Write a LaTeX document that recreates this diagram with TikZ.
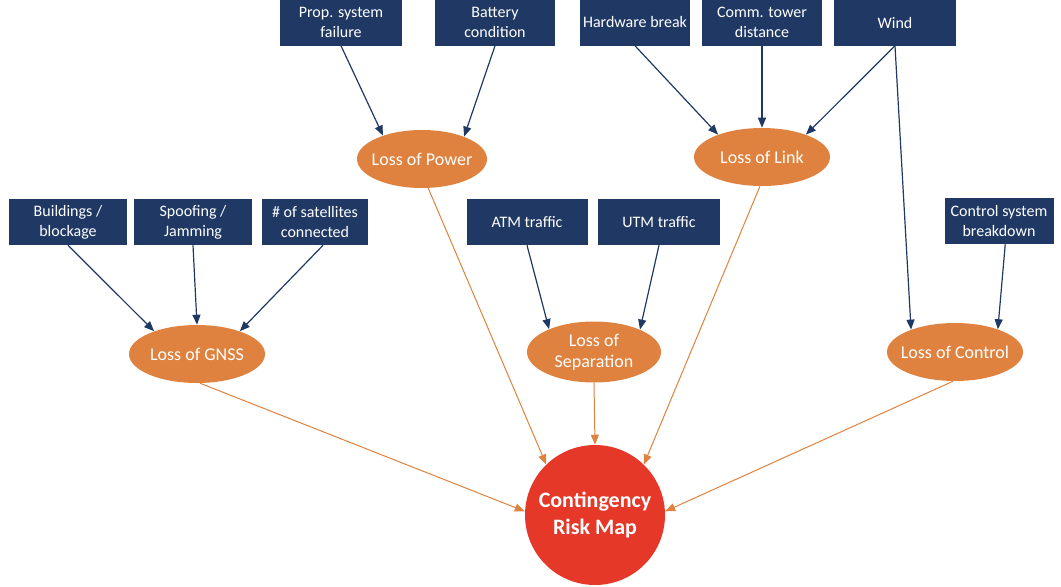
\documentclass[tikz,border=0pt]{standalone}
\usepackage{fontspec}
\setmainfont{Carlito}
\usetikzlibrary{arrows.meta,shapes.geometric}
\definecolor{boxblue}{RGB}{31,56,100}
\definecolor{riskorange}{RGB}{223,130,64}
\definecolor{hubred}{RGB}{229,56,40}
\tikzset{
  cause/.style={rectangle, fill=boxblue, text=white, minimum height=34.5pt, inner sep=1pt,
                align=center, font=\fontsize{12}{15}\selectfont},
  risk/.style={ellipse, fill=riskorange, text=white, minimum width=102pt, minimum height=43.5pt,
               inner xsep=-5pt, inner ysep=0pt, align=center, font=\fontsize{13.5}{16}\selectfont},
  hub/.style={circle, fill=hubred, text=white, minimum size=105pt, inner sep=0pt, align=center,
              font=\fontsize{16.5}{20}\selectfont\bfseries},
  bar/.style={-{Triangle[length=7.5pt,width=6pt]}, draw=boxblue, line width=0.9pt},
  oar/.style={-{Triangle[length=7.5pt,width=6pt]}, draw=riskorange, line width=0.75pt},
}
\begin{document}
\begin{tikzpicture}[x=0.75pt,y=-0.75pt]
\useasboundingbox (0,0) rectangle (1061,586);
% causes, top row
\node[cause, minimum width=91.5pt] (prop) at (341,22.5) {Prop. system\\failure};
\node[cause, minimum width=90pt] (batt) at (495,22.5) {Battery\\condition};
\node[cause, minimum width=82.5pt] (hw) at (635,22.5) {Hardware break};
\node[cause, minimum width=90pt] (tower) at (762,22.5) {Comm. tower\\distance};
\node[cause, minimum width=91.5pt] (wind) at (895,22.5) {Wind};
% causes, second row
\node[cause, minimum width=88.5pt] (bldg) at (68,222) {Buildings /\\blockage};
\node[cause, minimum width=88.5pt] (spoof) at (193,222) {Spoofing /\\Jamming};
\node[cause, minimum width=79.5pt] (sat) at (315,222) {\# of satellites\\connected};
\node[cause, minimum width=90.75pt] (atm) at (527,222) {ATM traffic};
\node[cause, minimum width=91.5pt] (utm) at (659,222) {UTM traffic};
\node[cause, minimum width=81.75pt] (ctrlsys) at (999,221) {Control system\\breakdown};
% losses
\node[risk, minimum width=97.5pt] (power) at (422,159) {Loss of Power};
\node[risk] (link) at (762,157) {Loss of Link};
\node[risk] (gnss) at (197,354) {Loss of GNSS};
\node[risk, minimum width=100.5pt, minimum height=45.75pt] (sep) at (594,352) {Loss of\\Separation};
\node[risk] (ctrl) at (955,352) {Loss of Control};
\node[hub] (map) at (595,515) {Contingency\\Risk Map};
% connectors
\foreach \s/\t in {prop.south/power.149, batt.south/power.28, hw.south/link.153,
                   tower.south/link.90, wind.south/link.27, wind.south/ctrl.153,
                   bldg.south/gnss.152, spoof.south/gnss.90, sat.-71/gnss.28,
                   atm.south/sep.153, utm.south/sep.26, ctrlsys.-75/ctrl.28}
  \draw[bar] (\s) -- (\t);
\foreach \s/\t in {power.-78/map.134, link.-94/map.46, gnss.-84/map.177,
                   sep.south/map.north, ctrl.-94/map.3}
  \draw[oar] (\s) -- (\t);
\end{tikzpicture}
\end{document}
